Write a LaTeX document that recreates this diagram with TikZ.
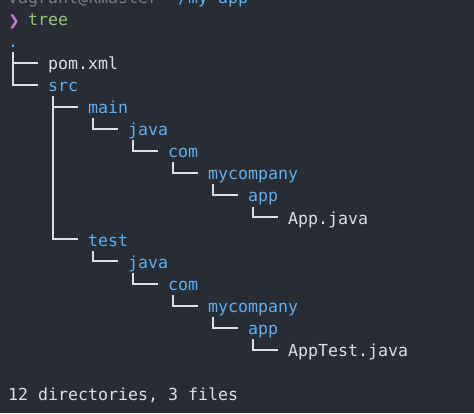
\documentclass[tikz,border=0pt]{standalone}
\usepackage{fontspec}
\setmonofont{DejaVu Sans Mono}
\newfontfamily\promptfont{DejaVu Sans}

\definecolor{bgcol}{HTML}{282C34}
\definecolor{filecol}{HTML}{DCDFE4}
\definecolor{dircol}{HTML}{61AFEF}
\definecolor{cmdcol}{HTML}{98C379}
\definecolor{promptcol}{HTML}{C678DD}
\definecolor{hostcol}{HTML}{7A808A}

\tikzset{
    entry/.style={
        anchor=base west, inner sep=0pt, text height=16pt, text depth=2.4pt, font=\ttfamily\fontsize{16.6}{20}\selectfont
    },
    file/.style={entry, text=filecol},
    folder/.style={entry, text=dircol},
    treeline/.style={draw=filecol, line width=2pt}
}

\begin{document}
\begin{tikzpicture}[x=1pt, y=-1pt]

            % Terminal window
            \fill[bgcol] (0,0) rectangle (474,413);
            \clip (0,0) rectangle (474,413);

            % Prompt
            \node[entry, text=hostcol] (host) at (8,3.0) {vagrant@kmaster};
            \node[folder] (cwd) at (168,3.0) {\textasciitilde/my-app};
            \node[entry, text=promptcol, font=\promptfont\fontsize{14}{20}\selectfont] (prompt) at (8,25.1) {❯};
            \node[entry, text=cmdcol] (cmd) at (28,25.1) {tree};

            % Tree entries
            \node[folder] (root) at (8,47.2) {.};
            \node[file] (pom) at (48,69.3) {pom.xml};
            \node[folder] (src) at (48,91.4) {src};
            \node[folder] (main) at (88,113.5) {main};
            \node[folder] (mainjava) at (128,135.6) {java};
            \node[folder] (maincom) at (168,157.7) {com};
            \node[folder] (maincompany) at (208,179.8) {mycompany};
            \node[folder] (mainapp) at (248,201.9) {app};
            \node[file] (appjava) at (288,224.0) {App.java};
            \node[folder] (test) at (88,246.1) {test};
            \node[folder] (testjava) at (128,268.2) {java};
            \node[folder] (testcom) at (168,290.3) {com};
            \node[folder] (testcompany) at (208,312.4) {mycompany};
            \node[folder] (testapp) at (248,334.5) {app};
            \node[file] (apptest) at (288,356.6) {AppTest.java};

            % Summary
            \node[file] (summary) at (8,400.8) {12 directories, 3 files};

            % Branches
            \foreach \parent/\child in {root/pom, root/src, src/main, src/test,
                main/mainjava, mainjava/maincom, maincom/maincompany, maincompany/mainapp, mainapp/appjava,
                test/testjava, testjava/testcom, testcom/testcompany, testcompany/testapp, testapp/apptest}
                \draw[treeline] ([xshift=5pt,yshift=-2pt]\parent.south west) |- ([xshift=-10pt]\child.west);

        \end{tikzpicture}
\end{document}
